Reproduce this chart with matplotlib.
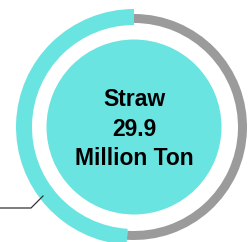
import matplotlib
matplotlib.use("Agg")
import matplotlib.pyplot as plt

# data
categories = ["Straw", "Other"]
shares = [49.0, 51.0]
label_name = "Straw"
label_value = "29.9"
label_unit = "Million Ton"

cyan = "#6AE4E1"
gray = "#9B9B9B"

W, H = 253, 242
fig = plt.figure(figsize=(W / 100, H / 100), dpi=100)
ax = fig.add_axes([0, 0, 1, 1])
ax.set_axis_off()

cx, cy = 134, H - 127

# outer cyan ring (Straw share)
ax.pie(shares, radius=118, center=(cx, cy), startangle=90, counterclock=True,
       colors=[cyan, "none"], wedgeprops=dict(width=16, linewidth=0))
# thin gray ring (remaining share)
ax.pie(shares, radius=113, center=(cx, cy), startangle=90, counterclock=True,
       colors=["none", gray], wedgeprops=dict(width=9, linewidth=0))
# inner filled disc
ax.pie([1], radius=87.5, center=(cx, cy), colors=[cyan],
       wedgeprops=dict(linewidth=0))

ax.text(cx, cy - 2, f"{label_name}\n{label_value}\n{label_unit}", ha="center", va="center",
        fontsize=16.5, fontweight="bold", family="Liberation Sans",
        linespacing=1.38, color="black")

# leader line
ax.plot([0, 31, 43], [H - 208, H - 208, H - 196], color="#333333", lw=0.9)

ax.set_xlim(0, W)
ax.set_ylim(0, H)
ax.set_aspect("equal")
fig.savefig("out.png", dpi=100)
